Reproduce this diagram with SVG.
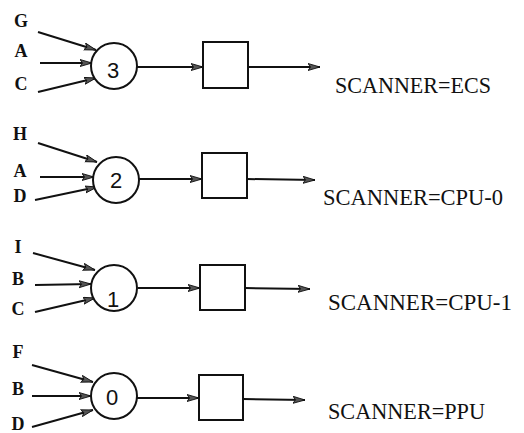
<svg xmlns="http://www.w3.org/2000/svg" width="524" height="433" viewBox="0 0 524 433">
<defs>
<marker id="ah" markerUnits="userSpaceOnUse" markerWidth="14" markerHeight="9" refX="12" refY="4" orient="auto">
<path d="M0,0.5 L12,4 L0,7.5 L2.5,4 z" fill="#555" stroke="#111" stroke-width="0.9"/>
</marker>
<style>
.ln{stroke:#111;stroke-width:2;fill:none;marker-end:url(#ah)}
.nd{stroke:#111;stroke-width:2;fill:#fff}
.lt{font-family:"Liberation Serif",serif;font-size:18px;font-weight:bold;fill:#111;text-anchor:middle}
.nm{font-family:"Liberation Sans",sans-serif;font-size:22px;fill:#111;text-anchor:middle}
.sc{font-family:"Liberation Serif",serif;font-size:24px;fill:#111}
</style>
</defs>
<rect width="524" height="433" fill="#fff"/>

<g id="connectors">
<line class="ln" x1="38" y1="32" x2="96" y2="50"/>
<line class="ln" x1="40" y1="63" x2="92" y2="63"/>
<line class="ln" x1="38" y1="92" x2="96" y2="78"/>
<line class="ln" x1="137" y1="67" x2="203" y2="67"/>
<line class="ln" x1="248" y1="67" x2="320" y2="67"/>

<line class="ln" x1="38" y1="143" x2="97" y2="162"/>
<line class="ln" x1="40" y1="177" x2="94" y2="177"/>
<line class="ln" x1="35" y1="200" x2="97" y2="187"/>
<line class="ln" x1="139" y1="179" x2="202" y2="179"/>
<line class="ln" x1="247" y1="179" x2="315" y2="180"/>

<line class="ln" x1="33" y1="253" x2="95" y2="270"/>
<line class="ln" x1="35" y1="285" x2="91" y2="284"/>
<line class="ln" x1="35" y1="312" x2="95" y2="298"/>
<line class="ln" x1="138" y1="288" x2="200" y2="288"/>
<line class="ln" x1="245" y1="288" x2="310" y2="289"/>

<line class="ln" x1="32" y1="365" x2="93" y2="382"/>
<line class="ln" x1="32" y1="396" x2="91" y2="396"/>
<line class="ln" x1="32" y1="427" x2="93" y2="410"/>
<line class="ln" x1="137" y1="398" x2="199" y2="398"/>
<line class="ln" x1="243" y1="399" x2="305" y2="400"/>
</g>

<g id="labels">
<text class="lt" x="21" y="27">G</text>
<text class="lt" x="21" y="57">A</text>
<text class="lt" x="21" y="90">C</text>
<text class="lt" x="20" y="140">H</text>
<text class="lt" x="20" y="177">A</text>
<text class="lt" x="20" y="202">D</text>
<text class="lt" x="18" y="253">I</text>
<text class="lt" x="18" y="285">B</text>
<text class="lt" x="18" y="315">C</text>
<text class="lt" x="18" y="358">F</text>
<text class="lt" x="18" y="395">B</text>
<text class="lt" x="18" y="430">D</text>
</g>

<g id="node3">
<circle class="nd" cx="114" cy="66" r="23"/>
<text class="nm" x="113" y="78">3</text>
</g>
<g id="box3"><rect class="nd" x="203" y="42" width="45" height="46"/></g>
<g id="scan3"><text class="sc" x="335" y="93" textLength="156" lengthAdjust="spacingAndGlyphs">SCANNER=ECS</text></g>

<g id="node2">
<circle class="nd" cx="116" cy="180" r="23"/>
<text class="nm" x="116" y="188">2</text>
</g>
<g id="box2"><rect class="nd" x="202" y="153" width="45" height="45"/></g>
<g id="scan2"><text class="sc" x="323" y="205" textLength="180" lengthAdjust="spacingAndGlyphs">SCANNER=CPU-0</text></g>

<g id="node1">
<circle class="nd" cx="114" cy="288" r="23"/>
<text class="nm" x="113" y="307">1</text>
</g>
<g id="box1"><rect class="nd" x="200" y="265" width="45" height="45"/></g>
<g id="scan1"><text class="sc" x="328" y="310" textLength="184" lengthAdjust="spacingAndGlyphs">SCANNER=CPU-1</text></g>

<g id="node0">
<circle class="nd" cx="114" cy="396" r="23"/>
<text class="nm" x="112" y="405">0</text>
</g>
<g id="box0"><rect class="nd" x="199" y="375" width="44" height="45"/></g>
<g id="scan0"><text class="sc" x="328" y="419" textLength="157" lengthAdjust="spacingAndGlyphs">SCANNER=PPU</text></g>
</svg>
